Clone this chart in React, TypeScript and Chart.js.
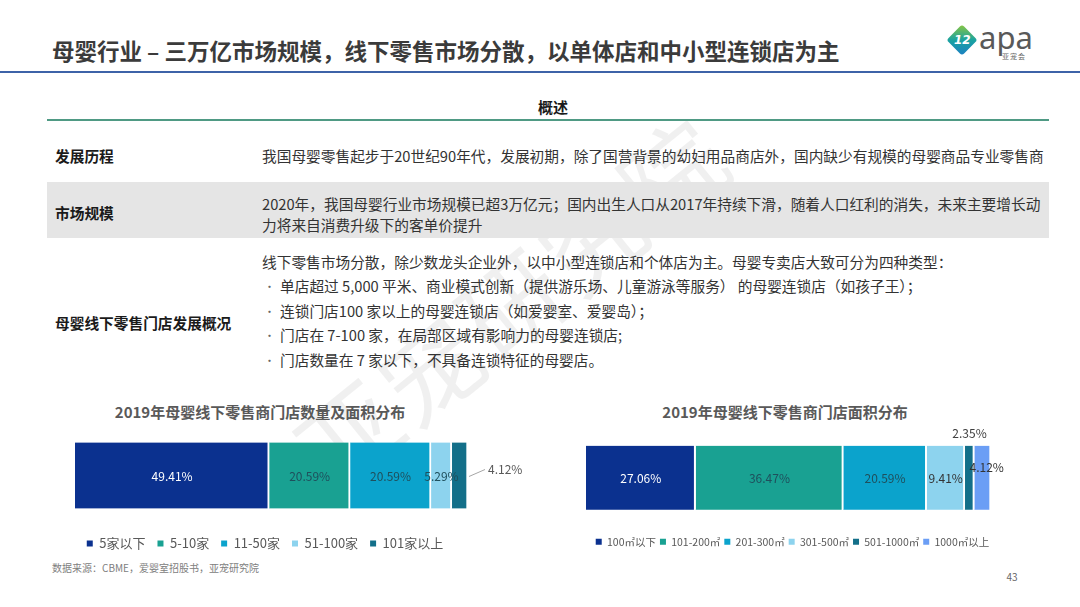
import React, { useEffect, useRef } from 'react';
import { Chart, registerables } from 'chart.js';

Chart.register(...registerables);

// ---------- data ----------
const storeCountCategories = ['5家以下', '5-10家', '11-50家', '51-100家', '101家以上'];
const storeCountValues = [49.41, 20.59, 20.59, 5.29, 4.12];

const storeAreaCategories = ['100㎡以下', '101-200㎡', '201-300㎡', '301-500㎡', '501-1000㎡', '1000㎡以上'];
const storeAreaValues = [27.06, 36.47, 20.59, 9.41, 2.35, 4.12];

// ---------- styles ----------
const storeCountColors = ['#0b318f', '#19a192', '#0ba3cc', '#8dd3ee', '#136f89'];
const storeAreaColors = ['#0b318f', '#19a192', '#0ba3cc', '#8dd3ee', '#136f89', '#6b9ef5'];
const storeCountLabelColors = ['#ffffff', '#1f4f5c', '#1f4f5c', '#1f4f5c', '#595959'];
const storeAreaLabelColors = ['#ffffff', '#1f4f5c', '#1f4f5c', '#333333', '#404040', '#333333'];
const storeCountPlacements = ['center', 'center', 'center', 'center', 'outside'];
const storeAreaPlacements = ['center', 'center', 'center', 'center', 'above', 'raised'];

const CJK = '"Noto Sans CJK SC", "Noto Sans", sans-serif';

type BarProps = {
  categories: string[];
  values: number[];
  colors: string[];
  labelColors: string[];
  placements: string[];
  width: number;
  height: number;
  topPad: number;
  leftGutter: number;
  rightGutter: number;
  barThickness: number;
  legendFont: number;
  legendPadding: number;
};

function StackedBar(p: BarProps) {
  const ref = useRef<HTMLCanvasElement>(null);
  useEffect(() => {
    const labelPlugin = {
      id: 'segLabels',
      afterDatasetsDraw(chart: any) {
        const ctx = chart.ctx;
        ctx.save();
        ctx.font = '12px ' + CJK;
        ctx.textBaseline = 'middle';
        chart.data.datasets.forEach((ds: any, i: number) => {
          const meta = chart.getDatasetMeta(i);
          const el = meta.data[0];
          if (!el) return;
          const { x, base, y, height } = el.getProps(['x', 'base', 'y', 'height'], true);
          const text = Number(ds.data[0]).toFixed(2) + '%';
          const cx = (x + base) / 2;
          const mode = p.placements[i];
          ctx.fillStyle = p.labelColors[i];
          if (mode === 'outside') {
            ctx.strokeStyle = '#a6a6a6';
            ctx.lineWidth = 1;
            ctx.beginPath();
            ctx.moveTo(x + 1, y + 1);
            ctx.lineTo(x + 17, y - 6);
            ctx.stroke();
            ctx.textAlign = 'left';
            ctx.fillText(text, x + 20, y - 6);
          } else if (mode === 'above') {
            ctx.textAlign = 'center';
            ctx.fillText(text, cx, y - height / 2 - 12);
          } else if (mode === 'raised') {
            ctx.textAlign = 'center';
            ctx.fillText(text, cx + 4, y - 10);
          } else {
            ctx.textAlign = 'center';
            ctx.fillText(text, cx, y + 1);
          }
        });
        ctx.restore();
      },
    };

    const hiddenAxis = (w: number, position: string) => ({
      position,
      display: true,
      grid: { display: false },
      ticks: { display: false },
      border: { display: false },
      afterFit: (s: any) => {
        s.width = w;
      },
    });

    const chart = new Chart(ref.current as HTMLCanvasElement, {
      type: 'bar',
      data: {
        labels: [''],
        datasets: p.categories.map((c, i) => ({
          label: c,
          data: [p.values[i]],
          backgroundColor: p.colors[i],
          borderColor: '#ffffff',
          borderWidth: { top: 0, bottom: 0, left: 0, right: 2 },
          borderSkipped: false,
          barThickness: p.barThickness,
        })),
      },
      options: {
        indexAxis: 'y',
        animation: false,
        responsive: false,
        layout: { padding: { top: p.topPad, bottom: 0, left: 0, right: 0 } },
        scales: {
          x: { stacked: true, min: 0, max: 100, display: false },
          y: { stacked: true, type: 'category', ...hiddenAxis(p.leftGutter, 'left') } as any,
          yRight: { type: 'linear', ...hiddenAxis(p.rightGutter, 'right') } as any,
        },
        plugins: {
          title: { display: false },
          tooltip: { enabled: false },
          legend: {
            display: true,
            position: 'bottom',
            labels: {
              usePointStyle: true,
              pointStyle: 'rect',
              boxWidth: 6,
              boxHeight: 6,
              padding: p.legendPadding,
              color: '#595959',
              font: { size: p.legendFont, family: CJK },
              generateLabels: (ch: any) =>
                ch.data.datasets.map((d: any, i: number) => ({
                  text: d.label,
                  fillStyle: d.backgroundColor,
                  strokeStyle: d.backgroundColor,
                  lineWidth: 0,
                  pointStyle: 'rect',
                  hidden: false,
                  datasetIndex: i,
                  fontColor: '#595959',
                })),
            },
          },
        },
      } as any,
      plugins: [labelPlugin],
    });
    return () => chart.destroy();
  }, []);
  return (
    <canvas
      ref={ref}
      width={p.width}
      height={p.height}
      style={{ width: p.width, height: p.height, display: 'block' }}
    />
  );
}

const abs = (o: React.CSSProperties): React.CSSProperties => ({ position: 'absolute', ...o });

const row3Lines = [
  '单店超过 5,000 平米、商业模式创新（提供游乐场、儿童游泳等服务） 的母婴连锁店（如孩子王）；',
  '连锁门店100 家以上的母婴连锁店（如爱婴室、爱婴岛）；',
  '门店在 7-100 家，在局部区域有影响力的母婴连锁店;',
  '门店数量在 7 家以下，不具备连锁特征的母婴店。',
];

export default function App() {
  const textStyle: React.CSSProperties = {
    fontFamily: CJK,
    fontSize: 14.7,
    color: '#333333',
    whiteSpace: 'nowrap',
  };
  const labelStyle: React.CSSProperties = {
    fontFamily: CJK,
    fontSize: 14.7,
    fontWeight: 700,
    color: '#1a1a1a',
    whiteSpace: 'nowrap',
    lineHeight: '20px',
  };
  return (
    <div
      style={abs({
        left: 0,
        top: 0,
        width: 1080,
        height: 607,
        background: '#ffffff',
        overflow: 'hidden',
        fontFamily: CJK,
      })}
    >
      {/* watermark */}
      <div
        style={abs({
          left: 510,
          top: 300,
          transform: 'translate(-50%, -50%) rotate(-39deg)',
          fontSize: 100,
          color: 'rgba(0,0,0,0.06)',
          whiteSpace: 'nowrap',
          letterSpacing: 4,
          lineHeight: '100px',
          fontFamily: CJK,
        })}
      >
        亚宠研究院
      </div>

      {/* header */}
      <div
        style={abs({
          left: 52,
          top: 38,
          fontSize: 22.5,
          lineHeight: '24px',
          fontWeight: 700,
          color: '#3b3b3b',
          whiteSpace: 'nowrap',
        })}
      >
        母婴行业 – 三万亿市场规模，线下零售市场分散，以单体店和中小型连锁店为主
      </div>
      <div style={abs({ left: 0, top: 71, width: 1080, height: 2, background: '#3d63a8' })} />

      {/* logo */}
      <div
        style={abs({
          left: 951,
          top: 29,
          width: 22,
          height: 22,
          transform: 'rotate(45deg)',
          borderRadius: 3,
          background: 'linear-gradient(135deg, #8cc63f 0%, #1aa3a0 50%, #1c7fc4 100%)',
        })}
      />
      <div
        style={abs({
          left: 954,
          top: 32,
          width: 16,
          fontSize: 12,
          lineHeight: '16px',
          color: '#ffffff',
          fontStyle: 'italic',
          fontWeight: 700,
          textAlign: 'center',
          fontFamily: '"DejaVu Sans", sans-serif',
        })}
      >
        12
      </div>
      <div
        style={abs({
          left: 979,
          top: 20,
          fontSize: 31,
          lineHeight: '34px',
          color: '#595959',
          fontFamily: '"Noto Sans", "DejaVu Sans", sans-serif',
        })}
      >
        apa
      </div>
      <div style={abs({ left: 1002, top: 52, fontSize: 7, lineHeight: '8px', color: '#666', letterSpacing: 1 })}>
        亚宠会
      </div>

      {/* table */}
      <div style={abs({ left: 47, top: 97, width: 1012, textAlign: 'center', ...labelStyle, fontSize: 15 })}>
        概述
      </div>
      <div style={abs({ left: 47, top: 119, width: 1002, height: 2, background: '#4f9a84' })} />
      <div style={abs({ left: 47, top: 182, width: 1002, height: 56, background: '#e5e5e5' })} />

      <div style={abs({ left: 55, top: 146, ...labelStyle })}>发展历程</div>
      <div style={abs({ left: 262, top: 146, lineHeight: '20px', ...textStyle })}>
        我国母婴零售起步于20世纪90年代，发展初期，除了国营背景的幼妇用品商店外，国内缺少有规模的母婴商品专业零售商
      </div>

      <div style={abs({ left: 55, top: 203, ...labelStyle })}>市场规模</div>
      <div style={abs({ left: 262, top: 192.5, lineHeight: '21px', ...textStyle })}>
        2020年，我国母婴行业市场规模已超3万亿元；国内出生人口从2017年持续下滑，随着人口红利的消失，未来主要增长动
        <br />
        力将来自消费升级下的客单价提升
      </div>

      <div style={abs({ left: 55, top: 313, ...labelStyle })}>母婴线下零售门店发展概况</div>
      <div style={abs({ left: 262, top: 249.75, lineHeight: '24.5px', ...textStyle })}>
        线下零售市场分散，除少数龙头企业外，以中小型连锁店和个体店为主。母婴专卖店大致可分为四种类型：
      </div>
      {row3Lines.map((t, i) => (
        <React.Fragment key={i}>
          <div
            style={abs({
              left: 264,
              top: 274.25 + i * 24.5,
              lineHeight: '24.5px',
              fontSize: 11,
              color: '#666',
            })}
          >
            •
          </div>
          <div style={abs({ left: 280, top: 274.25 + i * 24.5, lineHeight: '24.5px', ...textStyle })}>{t}</div>
        </React.Fragment>
      ))}

      {/* chart titles */}
      <div
        style={abs({
          left: 60,
          width: 400,
          top: 402,
          textAlign: 'center',
          fontSize: 15,
          lineHeight: '20px',
          fontWeight: 700,
          color: '#595959',
          whiteSpace: 'nowrap',
        })}
      >
        2019年母婴线下零售商门店数量及面积分布
      </div>
      <div
        style={abs({
          left: 585,
          width: 400,
          top: 402,
          textAlign: 'center',
          fontSize: 15,
          lineHeight: '20px',
          fontWeight: 700,
          color: '#595959',
          whiteSpace: 'nowrap',
        })}
      >
        2019年母婴线下零售商门店面积分布
      </div>

      {/* charts */}
      <div style={abs({ left: 0, top: 415 })}>
        <StackedBar
          categories={storeCountCategories}
          values={storeCountValues}
          colors={storeCountColors}
          labelColors={storeCountLabelColors}
          placements={storeCountPlacements}
          width={530}
          height={145}
          topPad={11}
          leftGutter={75}
          rightGutter={62}
          barThickness={66}
          legendFont={13}
          legendPadding={12}
        />
      </div>
      <div style={abs({ left: 570, top: 415 })}>
        <StackedBar
          categories={storeAreaCategories}
          values={storeAreaValues}
          colors={storeAreaColors}
          labelColors={storeAreaLabelColors}
          placements={storeAreaPlacements}
          width={445}
          height={142}
          topPad={8}
          leftGutter={16}
          rightGutter={24}
          barThickness={64}
          legendFont={10.5}
          legendPadding={4}
        />
      </div>

      {/* footer */}
      <div style={abs({ left: 52, top: 561, fontSize: 10, lineHeight: '14px', color: '#808080', whiteSpace: 'nowrap' })}>
        数据来源：CBME，爱婴室招股书，亚宠研究院
      </div>
      <div style={abs({ left: 1002, top: 570, width: 20, textAlign: 'center', fontSize: 10, lineHeight: '14px', color: '#666' })}>
        43
      </div>
    </div>
  );
}
